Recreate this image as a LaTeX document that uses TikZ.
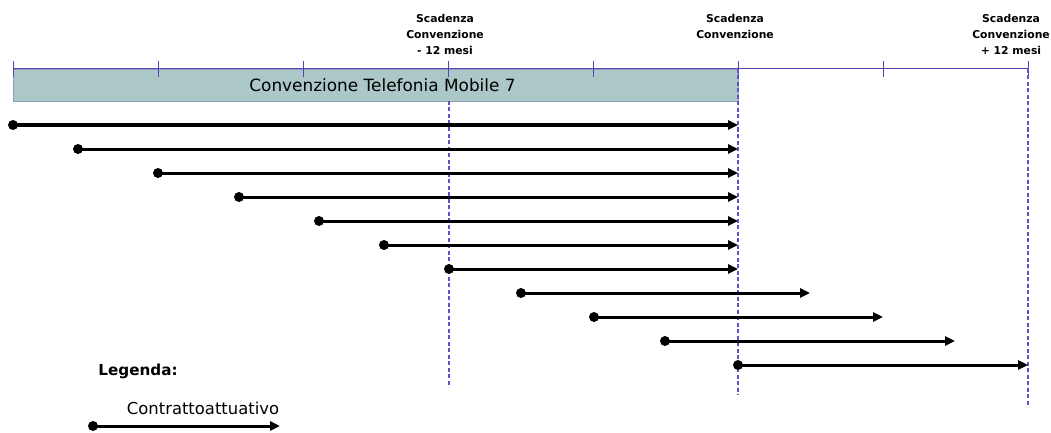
\documentclass[tikz,border=0pt]{standalone}
\usepackage{fontspec}
\setmainfont{DejaVu Sans}
\usetikzlibrary{arrows.meta}
\definecolor{axiscol}{RGB}{96,64,176}
\definecolor{guidecol}{RGB}{100,80,200}
\definecolor{barfill}{RGB}{171,199,199}
\definecolor{barline}{RGB}{140,160,190}
\begin{document}
\begin{tikzpicture}[x=1pt,y=-1pt,
  axisline/.style={draw=axiscol, line width=1pt},
  guide/.style={draw=guidecol, line width=1.4pt, dash pattern=on 4pt off 2.5pt},
  dot/.style={circle, fill=black, inner sep=0pt, minimum size=10pt},
  contract/.style={draw=black, line width=3pt, -{Triangle[length=10pt,width=9pt]}},
  deadline/.style={font=\bfseries\fontsize{10.8}{16}\selectfont, align=center, inner sep=0pt},
  bartext/.style={font=\fontsize{16.9}{20}\selectfont, inner sep=0pt}
]
\useasboundingbox (0,0) rectangle (1051,433);

% bar
\node[draw=barline, fill=barfill, line width=0.8pt, minimum width=725pt, minimum height=32pt,
      inner sep=0pt, anchor=north west] (bar) at (13,69) {};
\node[bartext] (bartitle) at (382.5,85) {Convenzione Telefonia Mobile 7};

% timeline
\foreach \i in {0,...,7} {
  \coordinate (tk\i) at ({13+145*\i},69);
  \draw[axisline] ([yshift=8pt]tk\i) -- ([yshift=-8pt]tk\i);
}
\draw[axisline] (tk0) -- (tk7);

% guides
\coordinate (gAt) at (449,101); \coordinate (gAb) at (449,387);
\coordinate (gBt) at (738,69);  \coordinate (gBb) at (738,395);
\coordinate (gCt) at (1028,69); \coordinate (gCb) at (1028,407);
\draw[guide] (gAt) -- (gAb);
\draw[guide] (gBt) -- (gBb);
\draw[guide] (gCt) -- (gCb);

% contracts
\foreach \n/\sx/\yy/\ex in {1/13/125/738, 2/78/149/738, 3/158/173/738, 4/239/197/738,
   5/319/221/738, 6/384/245/738, 7/449/269/738, 8/521/293/810, 9/594/317/883,
   10/665/341/955, 11/738/365/1028} {
  \node[dot] (s\n) at (\sx,\yy) {};
  \coordinate (e\n) at (\ex,\yy);
  \draw[contract] (s\n.center) -- (e\n);
}

% deadline labels
\node[deadline] (lblA) at (445,34.3) {Scadenza\\Convenzione\\- 12 mesi};
\node[deadline] (lblB) at (735,26.3) {Scadenza\\Convenzione};
\node[deadline] (lblC) at (1011,34.3) {Scadenza\\Convenzione\\+ 12 mesi};

% legend
\node[font=\bfseries\fontsize{15.2}{18}\selectfont, inner sep=0pt] (legtitle) at (138,371) {Legenda:};
\node[font=\fontsize{16.4}{20}\selectfont, inner sep=0pt] (legtext) at (203,408) {Contrattoattuativo};
\node[dot] (ls) at (93,426) {};
\coordinate (le) at (280,426);
\draw[contract] (ls.center) -- (le);
\end{tikzpicture}
\end{document}
